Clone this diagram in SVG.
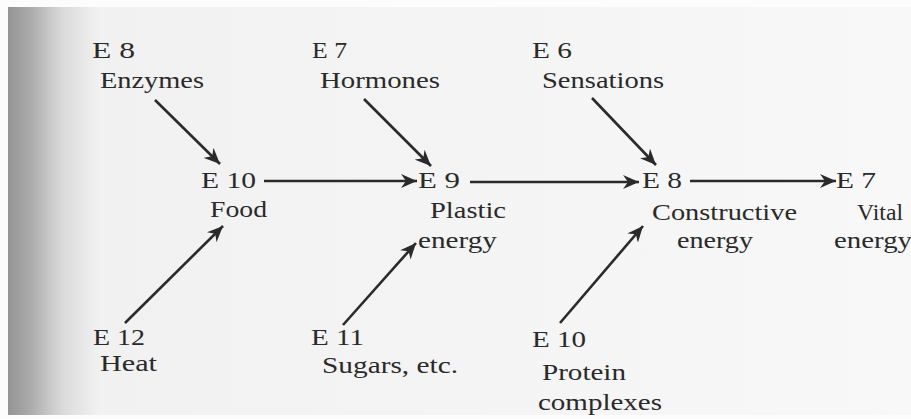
<svg xmlns="http://www.w3.org/2000/svg" width="911" height="419" viewBox="0 0 911 419">
<defs>
<linearGradient id="spine" x1="8" y1="0" x2="911" y2="0" gradientUnits="userSpaceOnUse">
<stop offset="0" stop-color="#949494"/>
<stop offset="0.025" stop-color="#ababab"/>
<stop offset="0.06" stop-color="#dadada"/>
<stop offset="0.1" stop-color="#f1f1f1"/>
<stop offset="1" stop-color="#f8f8f8"/>
</linearGradient>
<marker id="ah" markerUnits="userSpaceOnUse" markerWidth="18" markerHeight="14" refX="16" refY="7" orient="auto">
<path d="M0,0 L16,7 L0,14 L5,7 Z" fill="#2a2a2a"/>
</marker>
<style>
text{font-family:"Liberation Serif","Times New Roman",serif;font-size:23px;fill:#2a2a2a;}
.c line{stroke:#2a2a2a;stroke-width:2.6;marker-end:url(#ah);}
</style>
</defs>
<rect x="0" y="0" width="911" height="419" fill="#fcfcfc"/>
<rect x="8" y="7" width="903" height="408" fill="url(#spine)"/>
<g class="c" id="connectors">
<line x1="155" y1="100" x2="220" y2="164"/>
<line x1="364" y1="99" x2="431" y2="166"/>
<line x1="592" y1="98" x2="656" y2="165"/>
<line x1="264" y1="181" x2="417" y2="181"/>
<line x1="470" y1="182" x2="639" y2="182"/>
<line x1="690" y1="181" x2="836" y2="181"/>
<line x1="125" y1="323" x2="223" y2="226"/>
<line x1="343" y1="325" x2="416" y2="243"/>
<line x1="560" y1="323" x2="643" y2="226"/>
</g>
<g id="enzymes">
<text x="92" y="58" textLength="43" lengthAdjust="spacingAndGlyphs">E 8</text>
<text x="100" y="88" textLength="104" lengthAdjust="spacingAndGlyphs">Enzymes</text>
</g>
<g id="hormones">
<text x="312" y="58" textLength="35" lengthAdjust="spacingAndGlyphs">E 7</text>
<text x="320" y="88" textLength="120" lengthAdjust="spacingAndGlyphs">Hormones</text>
</g>
<g id="sensations">
<text x="532" y="58" textLength="40" lengthAdjust="spacingAndGlyphs">E 6</text>
<text x="542" y="88" textLength="122" lengthAdjust="spacingAndGlyphs">Sensations</text>
</g>
<g id="food">
<text x="201" y="188" textLength="55" lengthAdjust="spacingAndGlyphs">E 10</text>
<text x="210" y="217" textLength="57" lengthAdjust="spacingAndGlyphs">Food</text>
</g>
<g id="plastic">
<text x="418" y="188" textLength="42" lengthAdjust="spacingAndGlyphs">E 9</text>
<text x="430" y="218" textLength="76" lengthAdjust="spacingAndGlyphs">Plastic</text>
<text x="418" y="248" textLength="79" lengthAdjust="spacingAndGlyphs">energy</text>
</g>
<g id="constructive">
<text x="642" y="188" textLength="40" lengthAdjust="spacingAndGlyphs">E 8</text>
<text x="652" y="220" textLength="145" lengthAdjust="spacingAndGlyphs">Constructive</text>
<text x="677" y="248" textLength="76" lengthAdjust="spacingAndGlyphs">energy</text>
</g>
<g id="vital">
<text x="836" y="188" textLength="40" lengthAdjust="spacingAndGlyphs">E 7</text>
<text x="857" y="220" textLength="46" lengthAdjust="spacingAndGlyphs">Vital</text>
<text x="834" y="248" textLength="78" lengthAdjust="spacingAndGlyphs">energy</text>
</g>
<g id="heat">
<text x="93" y="345" textLength="52" lengthAdjust="spacingAndGlyphs">E 12</text>
<text x="100" y="371" textLength="57" lengthAdjust="spacingAndGlyphs">Heat</text>
</g>
<g id="sugars">
<text x="311" y="345" textLength="53" lengthAdjust="spacingAndGlyphs">E 11</text>
<text x="322" y="373" textLength="136" lengthAdjust="spacingAndGlyphs">Sugars, etc.</text>
</g>
<g id="protein">
<text x="532" y="347" textLength="54" lengthAdjust="spacingAndGlyphs">E 10</text>
<text x="542" y="380" textLength="84" lengthAdjust="spacingAndGlyphs">Protein</text>
<text x="538" y="410" textLength="124" lengthAdjust="spacingAndGlyphs">complexes</text>
</g>
</svg>
